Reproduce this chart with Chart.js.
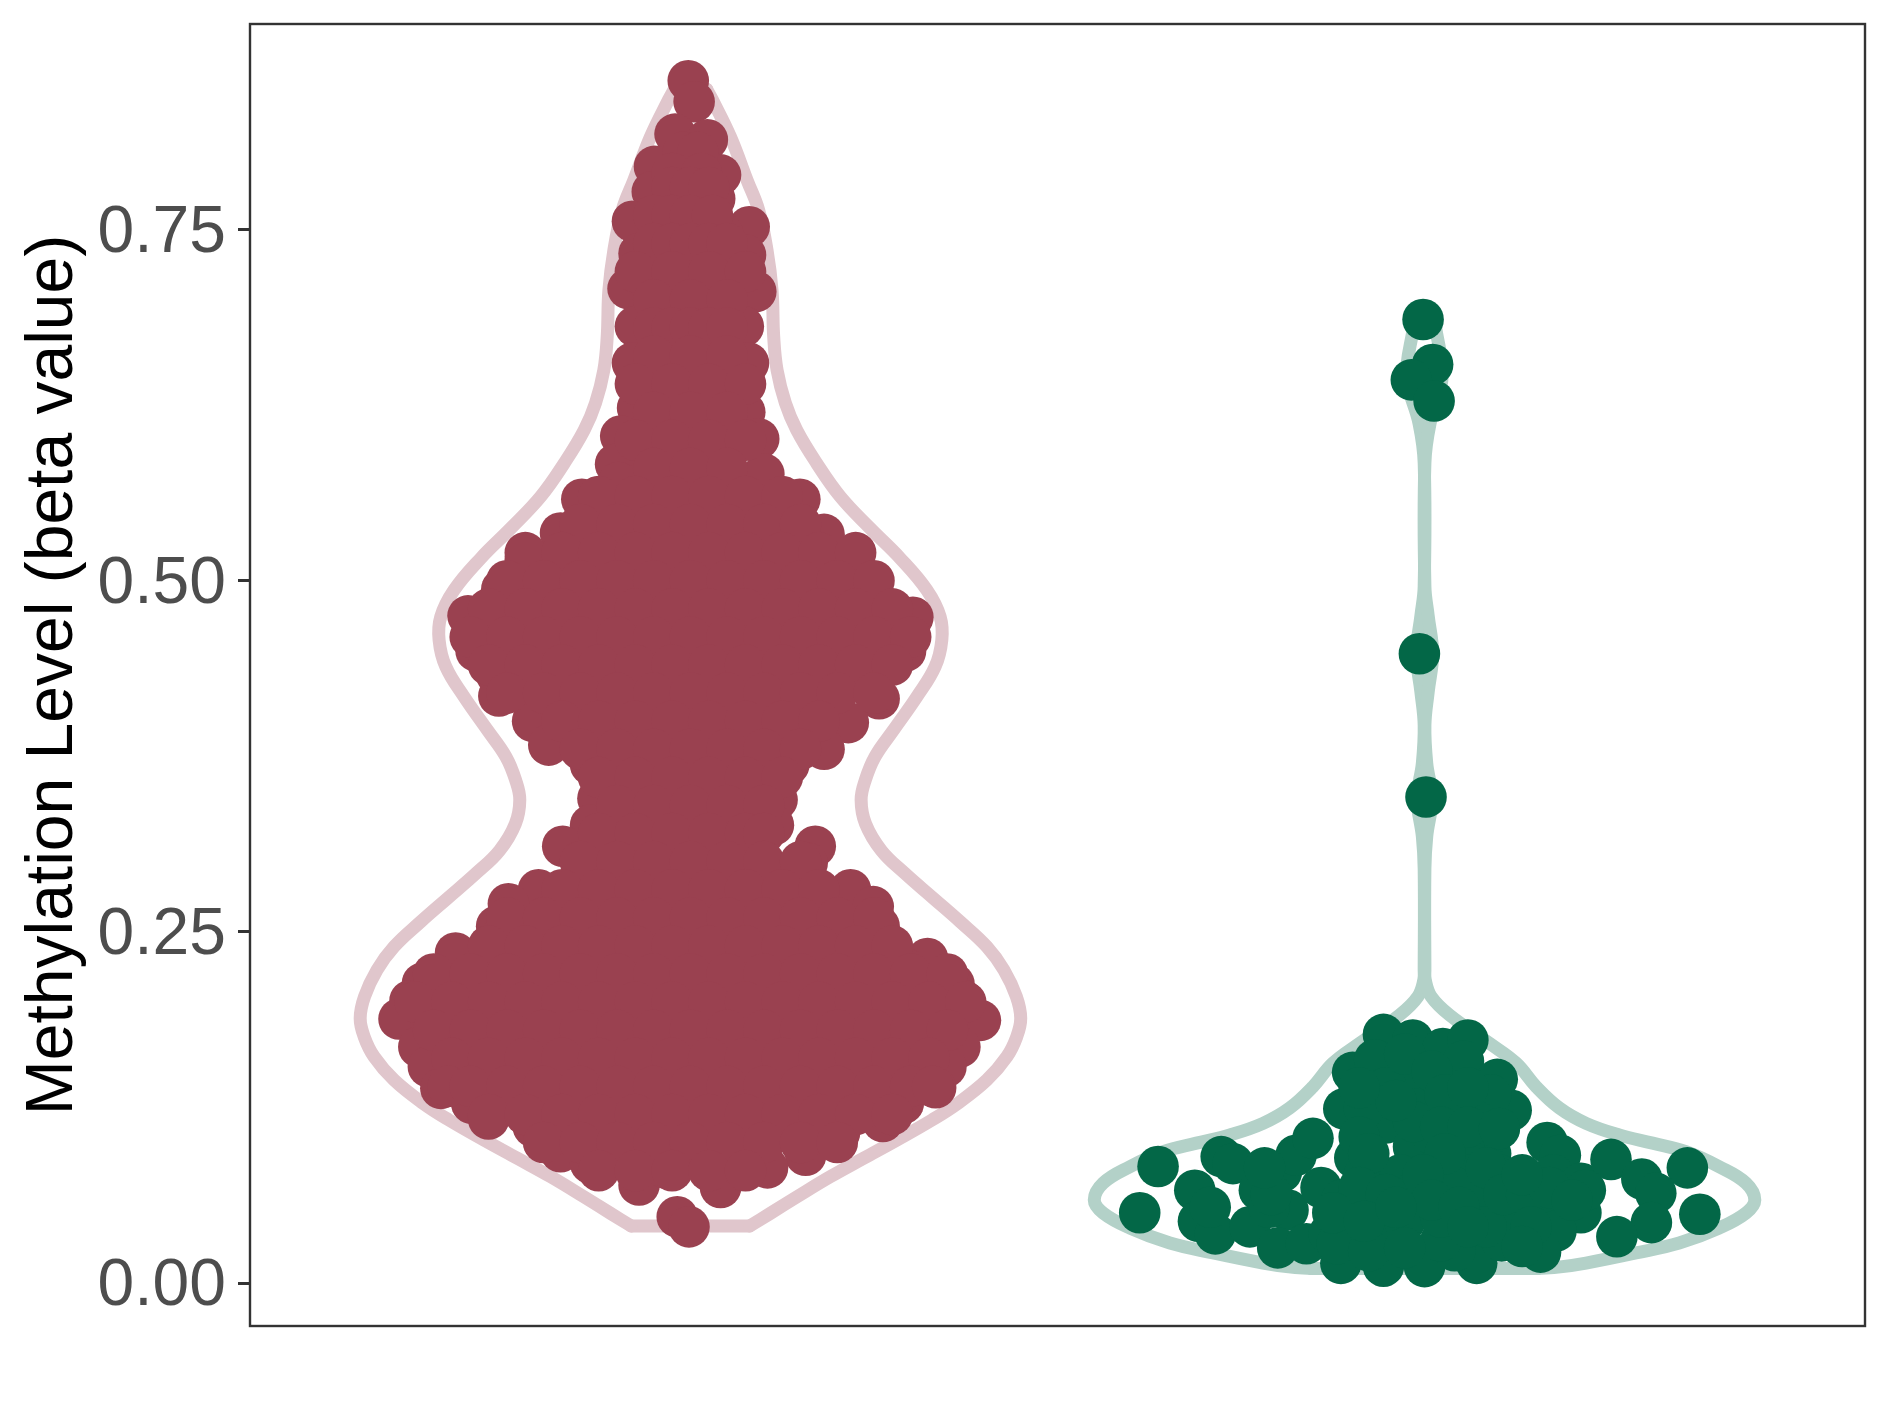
<!DOCTYPE html>
<html>
<head>
<meta charset="utf-8">
<script src="https://cdn.jsdelivr.net/npm/chart.js@4/dist/chart.umd.min.js"></script>
<style>
    html, body { margin: 0; padding: 0; background: #fff; }
    canvas { display: block; }
</style>
</head>
<body>
<canvas id="violinchart" width="1889" height="1417"></canvas>
<script>
const tickVals = [0, 0.25, 0.5, 0.75];
const groupPos = [1, 2];
const axisTitle = 'Methylation Level (beta value)';

// violin outline, half width per beta value (top to bottom)
const redViolinBeta = [.850, .8423, .8162, .7853, .764, .7355, .707, .6738, .65, .6266, .6073, .5836, .5599, .5373, .516, .4934, .4744, .4578, .4388, .4174, .3937, .3747, .3581, .344, .327, .308, .2917, .2739, .2573, .2395, .2229, .2039, .1885, .1754, .1611, .1445, .1279, .1161, .1018, .0888, .0757, .0614, .0496, .0406];
const redViolinWidth = [.022, .03, .0544, .0771, .0929, .1043, .1111, .1134, .118, .1293, .1447, .172, .2041, .2449, .2857, .322, .3401, .3424, .3333, .3084, .2766, .2514, .2382, .2325, .2385, .26, .292, .331, .3673, .4037, .427, .444, .4499, .4445, .4309, .4037, .364, .329, .2812, .2358, .1905, .1452, .1088, .0807];
const greenViolinBeta = [.686, .679, .645, .612, .584, .496, .475, .448, .421, .397, .370, .345, .318, .295, .223, .2157, .2039, .1908, .1707, .1566, .1398, .1246, .1137, .1054, .0996, .0935, .0828, .0712, .0591, .0498, .0392, .0285, .0214, .0142, .0115, .0103];
const greenViolinWidth = [.012, .0155, .024, .0075, .0005, .0005, .005, .011, .005, .0005, .003, .01, .003, .0005, .0005, .001, .0091, .034, .0884, .1247, .152, .1837, .22, .2653, .3107, .356, .4014, .4377, .4499, .4377, .4014, .3469, .288, .22, .185, .154];

// red points, visible edge of the swarm
const redEdgeX = [-.003, .005, -.021, .023, -.049, .041, -.052, .033, -.079, .080, .044, -.070, .075, -.085, .089, -.075, .072, -.079, .079, -.072, .074, -.095, .093, -.102, .100, -.098,
    -.148, .149, -.177, .182, -.225, .220, -.257, .248, -.303, .303, -.292, .293, -.264, .257, -.261, .257, -.215, .215, -.193, .182, -.136, .134, .033,
    -.126, .118, -.136, .113, -.174, .170, .159, -.139, -.207, .218, -.248, .249, -.264, .257, -.264, -.320, .323, .293, -.365, .359, -.382, .372, -.397, .395, -.370, .367, -.357, .348, -.340, .334,
    -.298, .290, -.275, .262, -.214, .203, -.177, .157, -.136, .105, -.070, .041, -.034, -.107, .061, -.018, -.002];
const redEdgeBeta = [.856, .841, .818, .814, .795, .789, .777, .772, .756, .752, .747, .733, .732, .708, .706, .681, .681, .655, .655, .623, .620, .603, .601, .583, .576, .570,
    .558, .558, .534, .533, .515, .515, .494, .493, .475, .474, .450, .450, .433, .437, .418, .416, .400, .399, .383, .380, .369, .369, .369,
    .345, .344, .326, .326, .311, .311, .299, .291, .280, .280, .270, .268, .254, .254, .244, .235, .231, .224, .2135, .213, .201, .201, .188, .187, .168, .168, .154, .154, .1386, .139,
    .128, .128, .1168, .115, .1113, .107, .0935, .091, .0853, .082, .0698, .068, .0819, .089, .094, .0472, .040];

// red points inside the swarm, one list of offsets per beta row
const redRowBeta = [.805, .79, .78, .76, .74, .72, .70, .68, .66, .64, .62, .60, .58, .56, .54, .52, .50, .48, .46, .44, .42, .40, .38, .36, .34, .32, .30, .28, .26, .24, .22, .20, .18, .16, .14, .12, .10, .08];
const redRowX = [
    [-.01, .01],
    [-.025, .015],
    [-.025, 0, .025],
    [-.05, -.025, 0, .03],
    [-.05, -.025, 0, .025, .05],
    [-.075, -.025, .025, .075],
    [-.05, 0, .05],
    [-.05, -.025, 0, .025, .05],
    [-.05, 0, .05],
    [-.075, -.025, .025, .075],
    [-.05, 0, .05],
    [-.075, -.025, .025, .075],
    [-.05, 0, .05],
    [-.125, -.075, -.025, .025, .075, .125],
    [-.15, -.1, -.05, 0, .05, .1, .15],
    [-.225, -.175, -.125, -.075, -.025, .025, .075, .125, .175, .225],
    [-.25, -.2, -.15, -.1, -.05, 0, .05, .1, .15, .2, .25],
    [-.275, -.225, -.175, -.125, -.075, -.025, .025, .075, .125, .175, .225, .275],
    [-.3, -.25, -.2, -.15, -.1, -.05, 0, .05, .1, .15, .2, .25, .3],
    [-.275, -.225, -.175, -.125, -.075, -.025, .025, .075, .125, .175, .225, .275],
    [-.25, -.2, -.15, -.1, -.05, 0, .05, .1, .15, .2, .25],
    [-.175, -.125, -.075, -.025, .025, .075, .125, .175],
    [-.15, -.1, -.05, 0, .05, .1, .15],
    [-.125, -.075, -.025, .025, .075, .125],
    [-.1, -.05, 0, .05, .1],
    [-.125, -.075, -.025, .025, .075, .1],
    [-.15, -.1, -.05, 0, .05, .1, .15],
    [-.175, -.125, -.075, -.025, .025, .075, .125, .175],
    [-.25, -.2, -.15, -.1, -.05, 0, .05, .1, .15, .2, .25],
    [-.275, -.225, -.175, -.125, -.075, -.025, .025, .075, .125, .175, .225, .275],
    [-.35, -.3, -.25, -.2, -.15, -.1, -.05, 0, .05, .1, .15, .2, .25, .3, .35],
    [-.375, -.325, -.275, -.225, -.175, -.125, -.075, -.025, .025, .075, .125, .175, .225, .275, .325, .375],
    [-.35, -.3, -.25, -.2, -.15, -.1, -.05, 0, .05, .1, .15, .2, .25, .3, .35],
    [-.325, -.275, -.225, -.175, -.125, -.075, -.025, .025, .075, .125, .175, .225, .275, .325],
    [-.33, -.3, -.25, -.2, -.15, -.1, -.05, 0, .05, .1, .15, .2, .25, .3, .33],
    [-.275, -.225, -.175, -.125, -.075, -.025, .025, .075, .125, .175, .225, .275],
    [-.2, -.15, -.1, -.05, 0, .05, .1, .15, .2],
    [-.125, -.075, -.025, .025, .075]
];

// green points
const greenX = [-.002, .011, -.018, .013, -.007, .002,
    -.363, -.388, .358, .375, -.277, -.261, -.313, -.308, -.285, -.292, -.238, -.225, -.186, -.195, -.175, -.152, -.200, -.161, -.114, -.056, 0, .071, .041, -.141, -.095,
    -.098, -.056, -.016, .025, .059, .053, -.068, .099, -.110, .118, .09, .167, .185, .176, .213, .254, .296, .315, .309, .262, .213, .176, .179, .158, .219, .105, .108, .124, .09, .09, .022, -.039,
    -.052, -.002, .041, -.015, -.052, -.082, -.015, .01, .053, .071, -.015, -.089, -.082, -.033, .022, .059, .102, -.113, -.064, -.021, .041, .078, -.113, -.064, -.027, .022, .084, -.13, -.119, -.076, -.027, -.212, -.209, -.218,
    -.027, .01, .028, .059, -.039, -.089, .022, .059, .102, -.076, .028, .084, -.002, -.089, -.052, .01, .047, .108, .139, .170, .133, -.125, -.082, -.039, .059, .145, .133, .201];
const greenBeta = [.686, .654, .643, .628, .448, .346,
    .083, .050, .082, .049, .090, .085, .066, .044, .035, .054, .040, .066, .052, .079, .091, .103, .025, .028, .014, .012, .0117, .014, .023, .068, .089,
    .150, .177, .173, .167, .173, .158, .159, .145, .124, .123, .134, .100, .091, .077, .071, .088, .074, .064, .043, .033, .050, .049, .037, .022, .066, .030, .049, .070, .092, .106, .030, .030,
    .114, .135, .123, .153, .139, .125, .097, .106, .097, .115, .115, .104, .077, .077, .082, .077, .077, .059, .054, .063, .068, .059, .040, .037, .044, .047, .040, .035, .028, .023, .025, .054, .063, .082,
    .163, .151, .134, .139, .130, .139, .111, .111, .110, .092, .092, .082, .077, .068, .063, .059, .054, .063, .063, .068, .077, .050, .044, .054, .040, .040, .026, .059];

// one side of a violin, side is +1 or -1
function violinSide(center, betas, widths, side) {
    var path = [];
    for (var i = 0; i < betas.length; i++) {
        path.push({ x: center + side * widths[i], y: betas[i] });
    }
    return path;
}

// flat cut of a violin at the first or last beta, trim=TRUE look
function violinCut(center, betas, widths, i) {
    return [{ x: center - widths[i], y: betas[i] }, { x: center + widths[i], y: betas[i] }];
}

// joins the edge points and the row points of the red group
function redPoints() {
    var pts = [];
    for (var i = 0; i < redEdgeX.length; i++) {
        pts.push({ x: groupPos[0] + redEdgeX[i], y: redEdgeBeta[i] });
    }
    for (var r = 0; r < redRowBeta.length; r++) {
        for (var k = 0; k < redRowX[r].length; k++) {
            pts.push({ x: groupPos[0] + redRowX[r][k], y: redRowBeta[r] });
        }
    }
    return pts;
}

function greenPoints() {
    var pts = [];
    for (var i = 0; i < greenX.length; i++) {
        pts.push({ x: groupPos[1] + greenX[i], y: greenBeta[i] });
    }
    return pts;
}

// panel border, ggplot style box
const panelBox = {
    id: 'panelBox',
    afterDatasetsDraw: function (chart) {
        const a = chart.chartArea;
        const c = chart.ctx;
        c.save();
        c.strokeStyle = '#333333';
        c.lineWidth = 2.4;
        c.strokeRect(a.left, a.top, a.right - a.left, a.bottom - a.top);
        c.restore();
    }
};

const lineStyle = { showLine: true, fill: false, tension: 0.4, borderWidth: 13, pointRadius: 0, borderCapStyle: 'round', borderJoinStyle: 'round', order: 3 };
const dotStyle = { showLine: false, pointRadius: 20.8, pointBorderWidth: 0, pointHoverRadius: 20.8, order: 1 };
const redLine = Object.assign({ borderColor: '#E0C6CC' }, lineStyle);
const greenLine = Object.assign({ borderColor: '#B3D1C8' }, lineStyle);

const ctx = document.getElementById('violinchart').getContext('2d');
const violinchart = new Chart(ctx, {
    type: 'scatter',
    data: {
        datasets: [
            Object.assign({ data: violinSide(groupPos[0], redViolinBeta, redViolinWidth, 1) }, redLine),
            Object.assign({ data: violinSide(groupPos[0], redViolinBeta, redViolinWidth, -1) }, redLine),
            Object.assign({ data: violinCut(groupPos[0], redViolinBeta, redViolinWidth, 0) }, redLine),
            Object.assign({ data: violinCut(groupPos[0], redViolinBeta, redViolinWidth, redViolinBeta.length - 1) }, redLine),
            Object.assign({ data: violinSide(groupPos[1], greenViolinBeta, greenViolinWidth, 1) }, greenLine),
            Object.assign({ data: violinSide(groupPos[1], greenViolinBeta, greenViolinWidth, -1) }, greenLine),
            Object.assign({ data: violinCut(groupPos[1], greenViolinBeta, greenViolinWidth, 0) }, greenLine),
            Object.assign({ data: violinCut(groupPos[1], greenViolinBeta, greenViolinWidth, greenViolinBeta.length - 1) }, greenLine),
            Object.assign({ data: redPoints(), backgroundColor: '#9A4150' }, dotStyle),
            Object.assign({ data: greenPoints(), backgroundColor: '#036747' }, dotStyle)
        ]
    },
    options: {
        responsive: false,
        animation: false,
        events: [],
        layout: { padding: { top: 24, right: 24, bottom: 91, left: 0 } },
        plugins: { legend: { display: false }, tooltip: { enabled: false } },
        scales: {
            x: {
                type: 'linear',
                min: 0.4,
                max: 2.6,
                display: false
            },
            y: {
                type: 'linear',
                min: -0.0306,
                max: 0.8964,
                afterFit: function (scale) {
                    scale.width = 250;
                    scale.paddingTop = 0;
                    scale.paddingBottom = 0;
                },
                afterBuildTicks: function (scale) {
                    scale.ticks = tickVals.map(function (v) { return { value: v }; });
                },
                title: {
                    display: true,
                    text: axisTitle,
                    color: '#000000',
                    font: { family: 'Liberation Sans', size: 66 },
                    padding: { top: 14, bottom: 0 }
                },
                border: { display: false },
                grid: { drawOnChartArea: false, drawTicks: true, tickLength: 12, tickWidth: 3, tickColor: '#333333' },
                ticks: {
                    color: '#4D4D4D',
                    padding: 12,
                    labelOffset: 4,
                    autoSkip: false,
                    font: { family: 'Liberation Sans', size: 66 },
                    callback: function (value) { return value.toFixed(2); }
                }
            }
        }
    },
    plugins: [panelBox]
});
</script>
</body>
</html>
